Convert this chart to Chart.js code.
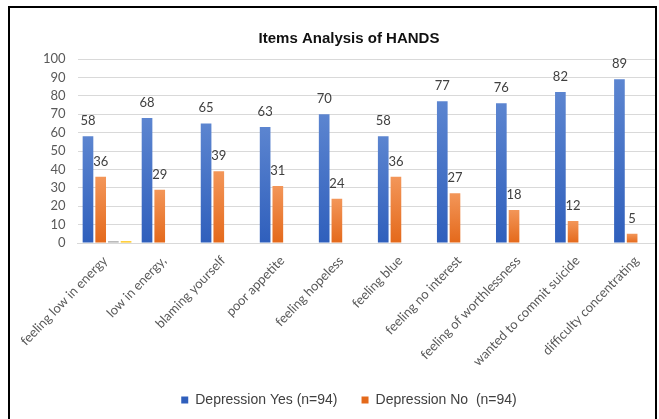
<!DOCTYPE html>
<html>
<head>
<meta charset="utf-8">
<script src="https://cdn.jsdelivr.net/npm/chart.js@4.4.0/dist/chart.umd.min.js"></script>
<style>
  html, body { margin: 0; padding: 0; overflow: hidden; background: #fff; }
  #wrap { position: relative; width: 672px; height: 419px; }
</style>
</head>
<body>
<div id="wrap"><canvas id="chartjs_bar"></canvas></div>
<script>
'use strict';

var categories = ['feeling low in energy', 'low in energy,', 'blaming yourself', 'poor appetite',
    'feeling hopeless', 'feeling blue', 'feeling no interest', 'feeling of worthlessness',
    'wanted to commit suicide', 'difficulty concentrating'];
var depressionYes = [58, 68, 65, 63, 70, 58, 77, 76, 82, 89];
var depressionNo = [36, 29, 39, 31, 24, 36, 27, 18, 12, 5];
var series3 = [1, null, null, null, null, null, null, null, null, null];
var series4 = [1, null, null, null, null, null, null, null, null, null];
var yMin = 0, yMax = 100, yStep = 10;

// per-bar vertical gradient, lighter at the top like the Excel fill
function barGradient(top, bottom, solid) {
    return function(context) {
        var chart = context.chart;
        if (!chart.chartArea || context.parsed === undefined || context.parsed.y == null) {
            return solid;
        }
        var y = chart.scales.y;
        var yTop = y.getPixelForValue(context.parsed.y);
        var yBot = y.getPixelForValue(0);
        if (!isFinite(yTop) || yBot - yTop < 1) return solid;
        var g = chart.ctx.createLinearGradient(0, yTop, 0, yBot);
        g.addColorStop(0, top);
        g.addColorStop(1, bottom);
        return g;
    };
}

var valueLabels = {
    id: 'valueLabels',
    afterDatasetsDraw: function(chart) {
        var ctx = chart.ctx;
        ctx.save();
        ctx.font = '13px Lato';
        ctx.fillStyle = '#404040';
        ctx.textAlign = 'center';
        ctx.textBaseline = 'alphabetic';
        [0, 1].forEach(function(i) {
            var meta = chart.getDatasetMeta(i);
            var data = chart.data.datasets[i].data;
            meta.data.forEach(function(bar, j) {
                if (data[j] == null) return;
                ctx.fillText(String(data[j]), bar.x, bar.y - 11);
            });
        });
        ctx.restore();
    }
};

var frame = {
    id: 'frame',
    afterDraw: function(chart) {
        var ctx = chart.ctx;
        ctx.save();
        ctx.fillStyle = '#ffffff';
        ctx.fillRect(657, 0, 30, chart.height);
        ctx.strokeStyle = '#000000';
        ctx.lineWidth = 2;
        ctx.strokeRect(9, 7, 647, 440);
        ctx.restore();
    }
};

var ctx = document.getElementById('chartjs_bar').getContext('2d');
window.myBar = new Chart(ctx, {
    type: 'bar',
    data: {
        labels: categories,
        datasets: [{
            label: 'Depression Yes (n=94)',
            data: depressionYes,
            backgroundColor: barGradient('#5c85d0', '#2f5fbc', '#4472c4'),
            borderWidth: 0
        }, {
            label: 'Depression No  (n=94)',
            data: depressionNo,
            backgroundColor: barGradient('#f39659', '#e4691b', '#ed7d31'),
            borderWidth: 0
        }, {
            label: 'Series3',
            data: series3,
            backgroundColor: '#a5a5a5',
            borderWidth: 0
        }, {
            label: 'Series4',
            data: series4,
            backgroundColor: '#ffc000',
            borderWidth: 0
        }]
    },
    options: {
        responsive: true,
        maintainAspectRatio: false,
        animation: false,
        categoryPercentage: 0.86,
        barPercentage: 0.84,
        layout: {
            padding: { left: 30, right: 4, top: 10, bottom: 2 }
        },
        plugins: {
            title: {
                display: true,
                text: 'Items Analysis of HANDS',
                color: '#111111',
                font: { family: 'Liberation Sans', size: 15, weight: 'bold' },
                padding: { top: 20, bottom: 11 }
            },
            legend: {
                position: 'bottom',
                labels: {
                    filter: function(item) { return item.datasetIndex < 2; },
                    boxWidth: 7,
                    boxHeight: 7,
                    padding: 24,
                    color: '#404040',
                    font: { family: 'Liberation Sans', size: 14 }
                }
            },
            tooltip: { enabled: false }
        },
        scales: {
            x: {
                grid: { display: false, drawTicks: false },
                border: { color: '#d9d9d9' },
                ticks: {
                    minRotation: 46,
                    maxRotation: 46,
                    padding: 10,
                    labelOffset: -2,
                    color: '#595959',
                    font: { family: 'Lato', size: 13 }
                },
                afterFit: function(scale) { scale.height = 126; }
            },
            y: {
                min: yMin,
                max: yMax,
                grid: { color: '#d9d9d9', drawTicks: false },
                border: { display: false },
                ticks: {
                    stepSize: yStep,
                    autoSkip: false,
                    padding: 12,
                    color: '#595959',
                    font: { family: 'Lato', size: 13 }
                },
                afterFit: function(scale) { scale.width = 47.5; }
            }
        }
    },
    plugins: [valueLabels, frame]
});
</script>
</body>
</html>
